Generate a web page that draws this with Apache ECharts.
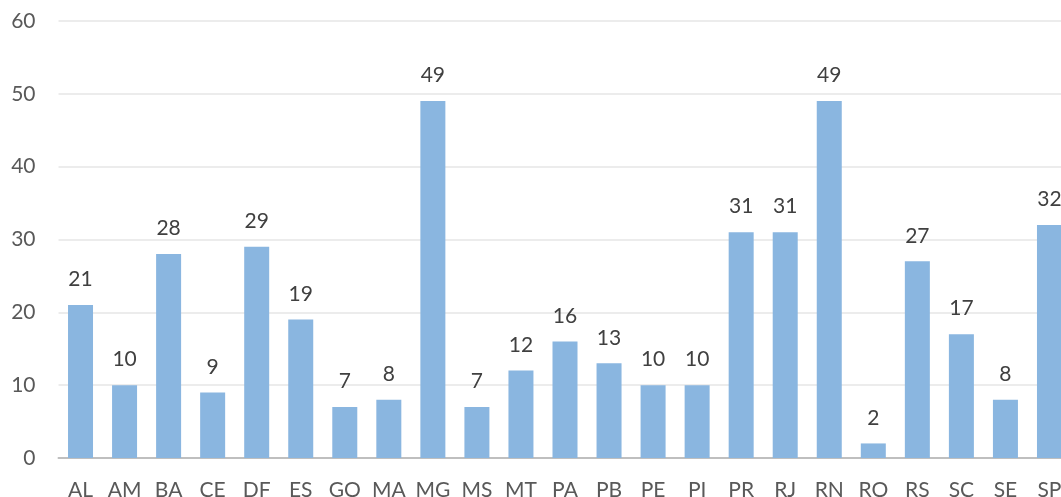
<!DOCTYPE html>
<html><head><meta charset="utf-8">
<script src="https://cdn.jsdelivr.net/npm/echarts@6/dist/echarts.min.js"></script>
<style>html,body{margin:0;padding:0;background:#fff;}#c{width:1061px;height:497px;}</style>
</head><body><div id="c"></div>
<script>
const categories = ["AL","AM","BA","CE","DF","ES","GO","MA","MG","MS","MT","PA","PB","PE","PI","PR","RJ","RN","RO","RS","SC","SE","SP"];
const values = [21,10,28,9,29,19,7,8,49,7,12,16,13,10,10,31,31,49,2,27,17,8,32];
const yTicks = [0,10,20,30,40,50,60];
const chart = echarts.init(document.getElementById('c'));
const font = 'Lato, "Open Sans", sans-serif';
chart.setOption({
  animation: false,
  grid: {left: 58.5, top: 21, right: -10.5, bottom: 39, containLabel: false, outerBoundsMode: 'none'},
  xAxis: {
    type: 'category', data: categories,
    axisLine: {lineStyle: {color: '#bfbfbf', width: 2}},
    axisTick: {show: false},
    axisLabel: {color: '#595959', fontSize: 21, fontFamily: font, margin: 22, interval: 0}
  },
  yAxis: {
    type: 'value', min: yTicks[0], max: yTicks[yTicks.length-1], interval: 10,
    axisLine: {show: false}, axisTick: {show: false},
    splitLine: {lineStyle: {color: '#e6e6e6', width: 1.5}},
    axisLabel: {color: '#595959', fontSize: 21, fontFamily: font, margin: 23}
  },
  series: [{
    type: 'bar', data: values, barWidth: 25,
    itemStyle: {color: '#8ab6e0'},
    label: {show: true, position: 'top', distance: 15, color: '#404040', fontSize: 21, fontFamily: font}
  }]
});
</script></body></html>
